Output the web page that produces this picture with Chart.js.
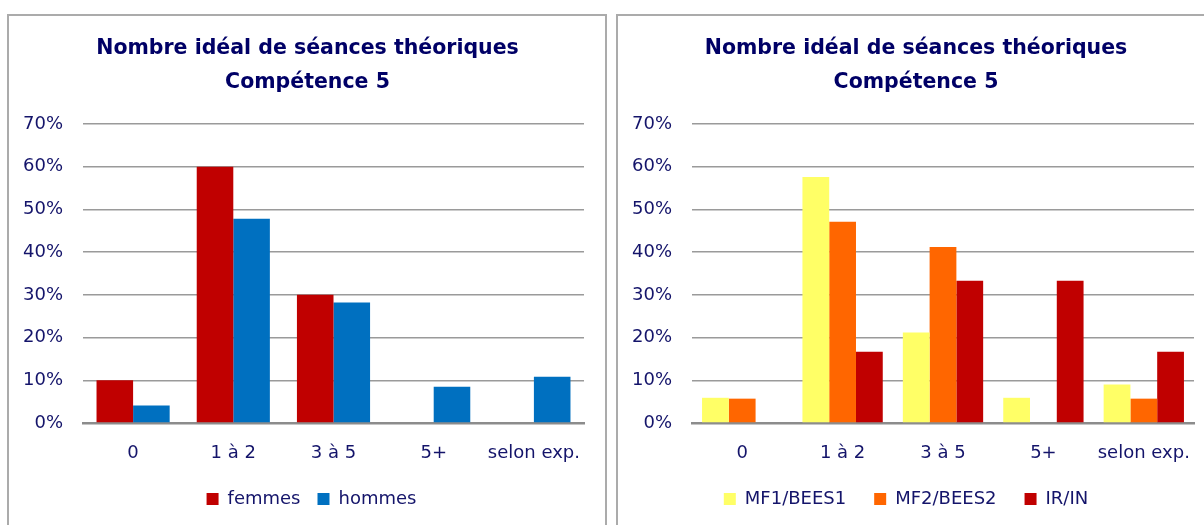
<!DOCTYPE html>
<html>
<head>
<meta charset="utf-8">
<script src="https://cdn.jsdelivr.net/npm/chart.js@4/dist/chart.umd.min.js"></script>
<style>
  html, body { margin: 0; padding: 0; background: #ffffff; overflow: hidden; width: 1204px; height: 525px; }
  .frame { position: absolute; top: 14px; height: 540px; border: 2px solid #ababab; background: #fff; }
  #f1 { left: 7px; width: 596px; }
  #f2 { left: 616px; width: 620px; }
  canvas { display: block; }
</style>
</head>
<body>
<div class="frame" id="f1"><canvas id="c1" width="596" height="509"></canvas></div>
<div class="frame" id="f2"><canvas id="c2" width="597" height="509"></canvas></div>
<script>
const categories = ['0', '1 à 2', '3 à 5', '5+', 'selon exp.'];
const yTicks = [0, 10, 20, 30, 40, 50, 60, 70];
const titleLines = ['Nombre idéal de séances théoriques', 'Compétence 5'];

const femmes = [10, 60, 30, 0, 0];
const hommes = [4.1, 47.8, 28.2, 8.5, 10.8];

const mf1 = [5.9, 57.6, 21.2, 5.9, 9.0];
const mf2 = [5.7, 47.1, 41.2, 0, 5.7];
const irin = [0, 16.7, 33.3, 33.3, 16.7];

const FONT = 'DejaVu Sans';
const NAVY = '#000066';
const LABEL = '#14146a';

// shifts the title and legend blocks horizontally after layout
const shiftPlugin = {
  id: 'shiftBoxes',
  afterLayout(chart, args, opts) {
    const t = chart.titleBlock, l = chart.legend;
    if (t && opts.title) { t.left += opts.title; t.right += opts.title; }
    if (l && opts.legend) { l.left += opts.legend; l.right += opts.legend; }
  }
};

function makeChart(id, datasets, cfg) {
  return new Chart(document.getElementById(id), {
    type: 'bar',
    data: { labels: categories, datasets: datasets },
    plugins: [shiftPlugin],
    options: {
      responsive: false,
      animation: false,
      devicePixelRatio: 1,
      layout: { padding: { left: 0, right: cfg.padR, top: 0, bottom: 7 } },
      datasets: { bar: { categoryPercentage: cfg.catPct, barPercentage: 1.0, borderWidth: 0 } },
      plugins: {
        shiftBoxes: { title: cfg.titleShift, legend: cfg.legendShift },
        title: {
          display: true,
          text: titleLines,
          color: NAVY,
          font: { family: FONT, size: 20.5, weight: 'bold', lineHeight: '34px' },
          padding: { top: 16, bottom: 24 }
        },
        legend: {
          display: true,
          position: 'bottom',
          labels: {
            color: LABEL,
            font: { family: FONT, size: 18 },
            boxWidth: 12,
            boxHeight: 12,
            padding: cfg.legPad
          }
        },
        tooltip: { enabled: false }
      },
      scales: {
        x: {
          grid: { display: false, drawTicks: false },
          border: { display: true, color: '#8c8c8c', width: 2.5 },
          ticks: { color: LABEL, font: { family: FONT, size: 18 }, padding: 20, maxRotation: 0, autoSkip: false },
          afterFit: (s) => { s.height = 67 - cfg.legPad; }
        },
        y: {
          min: yTicks[0],
          max: yTicks[yTicks.length - 1],
          afterBuildTicks: (s) => { s.ticks = yTicks.map(v => ({ value: v })); },
          grid: { color: '#9a9a9a', lineWidth: 1.5, drawTicks: false },
          border: { display: false },
          ticks: { color: LABEL, font: { family: FONT, size: 18 }, padding: 20, callback: (v) => v + '%' },
          afterFit: (s) => { s.width = 74; }
        }
      }
    }
  });
}

makeChart('c1', [
  { label: 'femmes', data: femmes, backgroundColor: '#C00000' },
  { label: 'hommes', data: hommes, backgroundColor: '#0070C0' }
], { padR: 21, catPct: 0.73, legPad: 17, titleShift: 11, legendShift: 15 });

makeChart('c2', [
  { label: 'MF1/BEES1', data: mf1, backgroundColor: '#FFFF66' },
  { label: 'MF2/BEES2', data: mf2, backgroundColor: '#FF6600' },
  { label: 'IR/IN', data: irin, backgroundColor: '#C00000' }
], { padR: 21, catPct: 0.8, legPad: 28, titleShift: 10, legendShift: 0 });
</script>
</body>
</html>
